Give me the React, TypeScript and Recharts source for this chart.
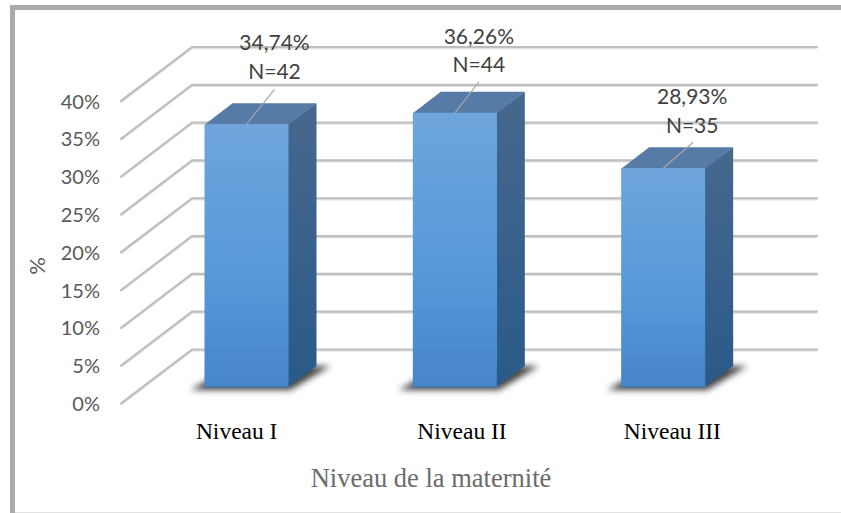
import { BarChart, Bar, XAxis, YAxis, CartesianGrid, LabelList, Label } from "recharts";

const categories = ["Niveau I", "Niveau II", "Niveau III"];
const percents = [34.74, 36.26, 28.93];
const counts = [42, 44, 35];
const percentTexts = ["34,74%", "36,26%", "28,93%"];
const yTicks = [0, 5, 10, 15, 20, 25, 30, 35, 40];

const data = categories.map((name, i) => ({ name, percent: percents[i], n: counts[i], text: percentTexts[i] }));

// 3d look: depth of the bar and of the floor, measured on the picture
const BAR_DX = 28;
const BAR_DY = 21;
const FLOOR_FRONT_DX = 21.5;
const FLOOR_FRONT_DY = 16.5;
const FLOOR_BACK_DX = 49.5;
const FLOOR_BACK_DY = 37.5;

// data labels and category labels were moved by hand in the original
const labelNudge = [
  { dx: 28, first: -83, second: -54, lineEnd: -35, lineDx: 28 },
  { dx: 24, first: -77, second: -49, lineEnd: -31, lineDx: 24 },
  { dx: 29, first: -73, second: -44, lineEnd: -26, lineDx: 30 },
];
const categoryNudge = [-10, 7, 9];

const GridLine = (props: any) => {
  const { x1, x2, y1 } = props;
  const pts = `${x1 - FLOOR_FRONT_DX},${y1 + FLOOR_FRONT_DY} ${x1 + FLOOR_BACK_DX},${y1 - FLOOR_BACK_DY} ${x2 + FLOOR_BACK_DX},${y1 - FLOOR_BACK_DY}`;
  return (
    <g>
      <polyline points={pts} fill="none" stroke="#e2e2e2" strokeWidth={1.5} transform="translate(0,1.4)" />
      <polyline points={pts} fill="none" stroke="#bfbfbf" strokeWidth={2.2} strokeLinecap="round" />
    </g>
  );
};

const Box3D = (props: any) => {
  const { x, y, width, height } = props;
  const right = x + width;
  const base = y + height;
  return (
    <g>
      <polygon
        points={`${x - 14},${base + 3} ${right + 2},${base + 3} ${right + 42},${base - 21} ${right + 20},${base - 21} ${x + 12},${base - 12}`}
        fill="#333333"
        opacity={0.9}
        filter="url(#softShadow)"
      />
      <polygon
        points={`${right - 0.5},${y} ${right + BAR_DX},${y - BAR_DY} ${right + BAR_DX},${base - BAR_DY} ${right - 0.5},${base}`}
        fill="url(#sideFill)"
      />
      <polygon
        points={`${x},${y + 0.5} ${x + BAR_DX},${y - BAR_DY} ${right + BAR_DX},${y - BAR_DY} ${right},${y + 0.5}`}
        fill="#567ba6"
      />
      <rect x={x} y={y} width={width} height={height} fill="url(#frontFill)" />
      <line x1={x} x2={right} y1={base} y2={base} stroke="#3f74a8" strokeWidth={1} />
    </g>
  );
};

const BarLabel = (props: any) => {
  const { x, y, width, index } = props;
  const cx = x + width / 2;
  const nudge = labelNudge[index];
  const style = { fontFamily: "Lato", fontSize: 21, fill: "#404040" };
  return (
    <g>
      <line x1={cx} y1={y} x2={cx + nudge.lineDx} y2={y + nudge.lineEnd} stroke="#a6a6a6" strokeWidth={1.2} />
      <text x={cx + nudge.dx} y={y + nudge.first} textAnchor="middle" dominantBaseline="central" {...style}>
        {percentTexts[index]}
      </text>
      <text x={cx + nudge.dx} y={y + nudge.second} textAnchor="middle" dominantBaseline="central" {...style}>
        {`N=${counts[index]}`}
      </text>
    </g>
  );
};

const YTick = (props: any) => {
  const { y, payload } = props;
  return (
    <text x={100} y={y + FLOOR_FRONT_DY - 0.5} textAnchor="end" dominantBaseline="central" fontFamily="Lato" fontSize={20} fill="#595959">
      {`${payload.value}%`}
    </text>
  );
};

const XTick = (props: any) => {
  const { x, payload, index } = props;
  return (
    <text x={x + categoryNudge[index]} y={431} textAnchor="middle" dominantBaseline="central" fontFamily="Liberation Serif" fontSize={23.5} fill="#000000">
      {payload.value}
    </text>
  );
};

export default function App() {
  return (
    <div style={{ position: "absolute", left: 0, top: 0, width: 841, height: 513, background: "#fff", overflow: "hidden" }}>
      <div style={{ position: "absolute", left: 10, top: 5, right: 0, height: 5, background: "#aeaaa8" }} />
      <div style={{ position: "absolute", left: 10, top: 5, bottom: 0, width: 5, background: "#aeaaa8" }} />
      <div style={{ position: "absolute", left: 15, bottom: 0, right: 0, height: 1, background: "#e2e2e2" }} />
      <BarChart
        width={841}
        height={513}
        data={data}
        margin={{ top: 84.5, right: 73.5, bottom: 0, left: 0 }}
        style={{ position: "absolute", left: 0, top: 0 }}
      >
        <defs>
          <linearGradient id="frontFill" x1="0" y1="0" x2="0" y2="1">
            <stop offset="0%" stopColor="#6fa5dd" />
            <stop offset="60%" stopColor="#5598d8" />
            <stop offset="100%" stopColor="#4685c8" />
          </linearGradient>
          <linearGradient id="sideFill" x1="0" y1="0" x2="0" y2="1">
            <stop offset="0%" stopColor="#46688d" />
            <stop offset="100%" stopColor="#2a5a8a" />
          </linearGradient>
          <filter id="softShadow" x="-20%" y="-50%" width="140%" height="200%">
            <feGaussianBlur stdDeviation="3" />
          </filter>
        </defs>
        <CartesianGrid vertical={false} horizontal={GridLine} />
        <XAxis dataKey="name" height={126} axisLine={false} tickLine={false} tick={XTick} interval={0}>
          <Label
            value="Niveau de la maternité"
            position="insideBottom"
            offset={26}
            dx={-24}
            fontFamily="Liberation Serif"
            fontSize={26.5}
            fill="#6b6b6b"
          />
        </XAxis>
        <YAxis width={142.5} domain={[0, 40]} ticks={yTicks} axisLine={false} tickLine={false} tick={YTick} interval={0}>
          <Label value="%" angle={-90} position="insideLeft" offset={37} dy={39} fontFamily="Lato" fontSize={22} fill="#595959" />
        </YAxis>
        <Bar dataKey="percent" barSize={84} shape={Box3D} isAnimationActive={false}>
          <LabelList dataKey="percent" content={BarLabel} />
        </Bar>
      </BarChart>
    </div>
  );
}
